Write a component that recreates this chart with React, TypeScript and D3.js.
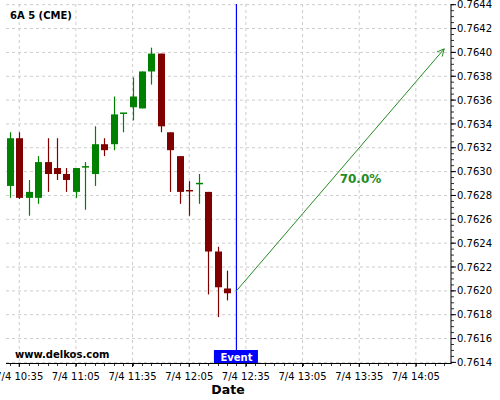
import React from "react";
import * as d3 from "d3";

const title = "6A 5 (CME)";
const watermark = "www.delkos.com";
const xAxisTitle = "Date";
const eventLabel = "Event";
const probabilityLabel = "70.0%";

const candleTimes = [
  "10:30", "10:35", "10:40", "10:45", "10:50", "10:55", "11:00", "11:05",
  "11:10", "11:15", "11:20", "11:25", "11:30", "11:35", "11:40", "11:45",
  "11:50", "11:55", "12:00", "12:05", "12:10", "12:15", "12:20", "12:25",
];
const opens = [
  0.76288, 0.76328, 0.76278, 0.76278, 0.76308, 0.76303, 0.76298, 0.76283,
  0.76303, 0.76298, 0.76323, 0.76323, 0.76348, 0.76354, 0.76353, 0.76384,
  0.76399, 0.76333, 0.76313, 0.76284, 0.76289, 0.76283, 0.76233, 0.76202,
];
const highs = [
  0.76333, 0.76333, 0.76293, 0.76313, 0.76328, 0.76328, 0.76303, 0.76303,
  0.76308, 0.76338, 0.76328, 0.76363, 0.76349, 0.76379, 0.76384, 0.76404,
  0.76399, 0.76333, 0.76313, 0.76292, 0.76298, 0.76283, 0.76237, 0.76217,
];
const lows = [
  0.76278, 0.76277, 0.76263, 0.76273, 0.76283, 0.76293, 0.76283, 0.76278,
  0.76268, 0.76288, 0.76313, 0.76318, 0.76333, 0.76343, 0.76353, 0.76373,
  0.76333, 0.76283, 0.76273, 0.76263, 0.76273, 0.76197, 0.76178, 0.76192,
];
const closes = [
  0.76328, 0.76278, 0.76283, 0.76308, 0.76298, 0.76298, 0.76293, 0.76303,
  0.76304, 0.76323, 0.76318, 0.76348, 0.76349, 0.76363, 0.76384, 0.76399,
  0.76338, 0.76318, 0.76283, 0.76283, 0.76290, 0.76233, 0.76203, 0.76198,
];

const eventTime = "12:30";
const arrowStart = { time: "12:30", price: 0.762 };
const arrowEnd = { time: "14:20", price: 0.76403 };
const xDomain = ["10:28:00", "14:23:36"];
const yDomain = [0.7614, 0.7644];
const xTickLabels = ["10:35", "11:05", "11:35", "12:05", "12:35", "13:05", "13:35", "14:05"];
const yTickValues = d3.range(0, 16).map((i) => +(0.7614 + i * 0.0002).toFixed(4));

const toDate = (s: string) => {
  const [h, m, sec] = s.split(":").map(Number);
  return new Date(2020, 6, 4, h, m, sec || 0);
};

const fmtX = (d: Date) =>
  `${d.getMonth() + 1}/${d.getDate()} ${d3.timeFormat("%H:%M")(d)}`;

export default function App() {
  const W = 500;
  const H = 400;
  const left = 6;
  const right = 451;
  const top = 4;
  const bottom = 364;

  const x = d3.scaleTime().domain(xDomain.map(toDate)).range([left, right]);
  const y = d3.scaleLinear().domain(yDomain).range([362.4, 4.7]);

  const font = "DejaVu Sans, sans-serif";
  const green = "#008000";
  const red = "#800000";
  const arrowColor = "#228B22";

  const candles = candleTimes.map((t, i) => ({
    t: toDate(t),
    o: opens[i],
    h: highs[i],
    l: lows[i],
    c: closes[i],
  }));

  const majorX = xTickLabels.map(toDate);
  const minorX = d3.timeMinute.every(5)!.range(toDate("10:30"), toDate("14:23"));
  const minorY = d3.range(0, 61).map((i) => 0.7614 + i * 0.00005);

  const x1 = x(toDate(arrowStart.time));
  const y1 = y(arrowStart.price);
  const x2 = x(toDate(arrowEnd.time));
  const y2 = y(arrowEnd.price);
  const ang = Math.atan2(y2 - y1, x2 - x1);
  const ah = 8;
  const spread = 0.45;
  const a1 = [x2 - ah * Math.cos(ang - spread), y2 - ah * Math.sin(ang - spread)];
  const a2 = [x2 - ah * Math.cos(ang + spread), y2 - ah * Math.sin(ang + spread)];

  const ex = x(toDate(eventTime));
  const bw = 7;

  return (
    <svg width={W} height={H} style={{ position: "absolute", left: 0, top: 0, background: "#fff" }}>
      <rect x={0} y={0} width={W} height={H} fill="#fff" />
      {/* grid */}
      {yTickValues.map((v) => (
        <line key={"gy" + v} x1={left} x2={right} y1={y(v)} y2={y(v)} stroke="#cccccc" strokeDasharray="3,3" strokeWidth={1} />
      ))}
      {majorX.map((d) => (
        <line key={"gx" + d.getTime()} x1={x(d)} x2={x(d)} y1={top} y2={bottom} stroke="#cccccc" strokeDasharray="3,3" strokeWidth={1} />
      ))}

      {/* candles */}
      {candles.map((k) => {
        const cx = Math.round(x(k.t)) + 0.5;
        const col = k.c >= k.o ? green : red;
        const yt = y(Math.max(k.o, k.c));
        const yb = y(Math.min(k.o, k.c));
        const hgt = Math.max(yb - yt, 1.2);
        return (
          <g key={k.t.getTime()}>
            <line x1={cx} x2={cx} y1={y(k.h)} y2={y(k.l)} stroke={col} strokeWidth={1.2} />
            {yb - yt < 1.5 ? (
              <line x1={cx - bw / 2} x2={cx + bw / 2} y1={yt} y2={yt} stroke={col} strokeWidth={1.5} />
            ) : (
              <rect x={cx - bw / 2} y={yt} width={bw} height={hgt} fill={col} />
            )}
          </g>
        );
      })}

      {/* event line */}
      <line x1={ex} x2={ex} y1={top} y2={bottom} stroke="#0000ff" strokeWidth={1.2} />
      <rect x={ex - 22.5} y={350} width={44} height={13.5} fill="#0000ff" />
      <text x={ex} y={360.5} textAnchor="middle" fill="#fff" fontFamily={font} fontWeight="bold" fontSize={10}>
        {eventLabel}
      </text>

      {/* arrow */}
      <line x1={x1} y1={y1} x2={x2} y2={y2} stroke={arrowColor} strokeWidth={1} />
      <polyline points={`${a1[0]},${a1[1]} ${x2},${y2} ${a2[0]},${a2[1]}`} fill="none" stroke={arrowColor} strokeWidth={1} />
      <text x={360.5} y={182.5} textAnchor="middle" fill={arrowColor} fontFamily={font} fontWeight="bold" fontSize={12}>
        {probabilityLabel}
      </text>

      {/* axes */}
      <line x1={left} x2={right + 0.5} y1={bottom - 0.5} y2={bottom - 0.5} stroke="#000" strokeWidth={1} />
      <line x1={right} x2={right} y1={top} y2={bottom} stroke="#000" strokeWidth={1} />
      {minorX.map((d) => (
        <line key={"mx" + d.getTime()} x1={Math.round(x(d)) + 0.5} x2={Math.round(x(d)) + 0.5} y1={bottom} y2={bottom + 2} stroke="#000" strokeWidth={0.8} />
      ))}
      {majorX.map((d) => (
        <g key={"tx" + d.getTime()}>
          <line x1={x(d)} x2={x(d)} y1={bottom} y2={bottom + 3} stroke="#000" strokeWidth={1} />
          <text x={x(d)} y={380} textAnchor="middle" fontFamily={font} fontSize={10} fill="#000">
            {fmtX(d)}
          </text>
        </g>
      ))}
      {minorY.map((v, i) => (
        <line key={"my" + i} x1={right} x2={right + 3} y1={y(v)} y2={y(v)} stroke="#000" strokeWidth={0.8} />
      ))}
      {yTickValues.map((v) => (
        <g key={"ty" + v}>
          <line x1={right} x2={right + 5} y1={y(v)} y2={y(v)} stroke="#000" strokeWidth={1} />
          <text x={457} y={y(v) + 3.6} fontFamily={font} fontSize={10} fill="#000">
            {v.toFixed(4)}
          </text>
        </g>
      ))}

      {/* titles */}
      <text x={10} y={19} fontFamily={font} fontWeight="bold" fontSize={10} fill="#000">
        {title}
      </text>
      <text x={15} y={357.5} fontFamily={font} fontWeight="bold" fontSize={10} fill="#000">
        {watermark}
      </text>
      <text x={228} y={394} textAnchor="middle" fontFamily={font} fontWeight="bold" fontSize={12.5} fill="#000">
        {xAxisTitle}
      </text>
    </svg>
  );
}
